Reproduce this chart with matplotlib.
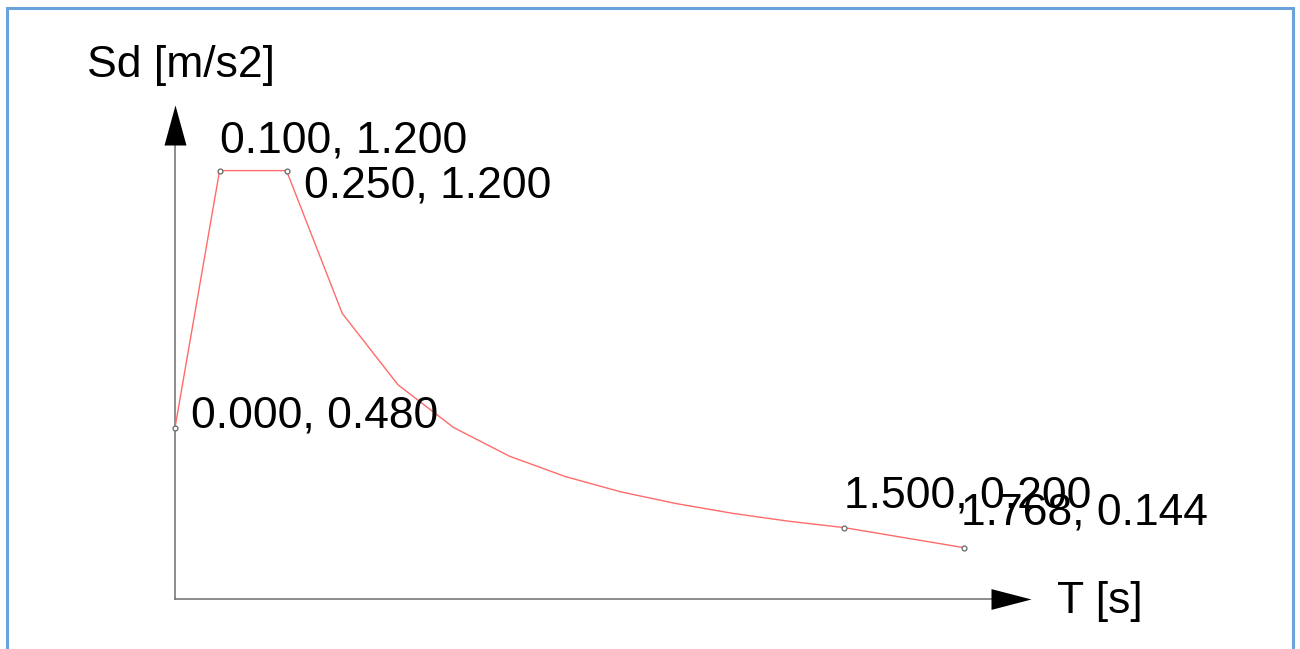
import matplotlib
matplotlib.use("Agg")
import matplotlib.pyplot as plt
from matplotlib.patches import Rectangle

# ---- data ----
T_values = [0.0, 0.1, 0.25, 0.375, 0.5, 0.625, 0.75, 0.875, 1.0, 1.125, 1.25, 1.375, 1.5, 1.768]
Sd_values = [0.48, 1.2, 1.2, 0.8, 0.6, 0.48, 0.4, 0.343, 0.3, 0.267, 0.24, 0.218, 0.2, 0.144]
label_T = [0.0, 0.1, 0.25, 1.5, 1.768]
label_Sd = [0.48, 1.2, 1.2, 0.2, 0.144]
x_label = "T [s]"
y_label = "Sd [m/s2]"

# ---- layout ----
W, H, DPI = 1300, 649, 100
ox, oy = 175, 599          # pixel of origin
sx, sy = 446.0, 357.0      # pixels per unit
x_axis_end = 1.919
y_axis_end = 1.384
label_offsets = [(16, 0), (0, 18), (18, -27), (0, 20), (-3, 23)]  # pixels (dx, dy up)

plt.rcParams['font.family'] = ['Liberation Sans', 'DejaVu Sans']
fig = plt.figure(figsize=(W / DPI, H / DPI), dpi=DPI)
ax = fig.add_axes([0, 0, 1, 1])
ax.set_xlim(-ox / sx, (W - ox) / sx)
ax.set_ylim(-(H - oy) / sy, oy / sy)
ax.axis('off')

# frame
fig.add_artist(Rectangle((7 / W, -0.05), (1293 - 7) / W, 1.05 - 8 / H,
                         transform=fig.transFigure, fill=False,
                         edgecolor='#6aa3dc', linewidth=2.2))

# axes lines
axis_col = '#6e6e6e'
ax.plot([0, 0], [0, y_axis_end - 0.05], color=axis_col, lw=1.1, zorder=2)
ax.plot([0, x_axis_end - 0.05], [0, 0], color=axis_col, lw=1.1, zorder=2)
up_head = [(0, 0), (-0.275, -1), (0.275, -1)]
right_head = [(0, 0), (-1, 0.26), (-1, -0.26)]
ax.plot([0], [y_axis_end], marker=up_head, ms=57.6, color='black', mew=0, zorder=3)
ax.plot([x_axis_end], [0], marker=right_head, ms=57.6, color='black', mew=0, zorder=3)

# spectrum
ax.plot(T_values, Sd_values, color='#ff6b6b', lw=1.0, zorder=4)
ax.plot(label_T, label_Sd, ls='none', marker='o', ms=3.5, mfc='white',
        mec='#666666', mew=0.9, zorder=5)

fs = 32
for t, s, (dx, dy) in zip(label_T, label_Sd, label_offsets):
    ax.annotate(f"{t:.3f}, {s:.3f}", xy=(t, s), xytext=(dx, dy),
                textcoords='offset pixels', ha='left', va='baseline',
                fontsize=fs, color='black', zorder=6)

ax.annotate(y_label, xy=(0, y_axis_end), xytext=(-88, 28), textcoords='offset pixels',
            ha='left', va='baseline', fontsize=fs, color='black')
ax.annotate(x_label, xy=(x_axis_end, 0), xytext=(26, -14), textcoords='offset pixels',
            ha='left', va='baseline', fontsize=fs, color='black')

fig.savefig('out.png', dpi=DPI)
